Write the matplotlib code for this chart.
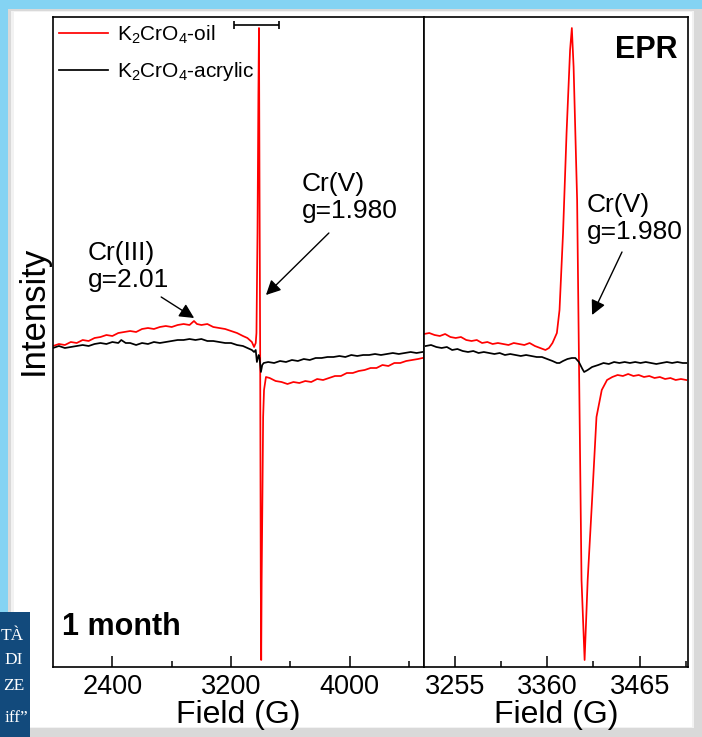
import matplotlib
matplotlib.use("Agg")
import matplotlib.pyplot as plt
from matplotlib.patches import Rectangle
from matplotlib.ticker import FixedLocator

plt.rcParams['font.family'] = ['Liberation Sans', 'DejaVu Sans']
plt.rcParams['mathtext.fontset'] = 'custom'
plt.rcParams['mathtext.rm'] = 'Liberation Sans'
plt.rcParams['mathtext.it'] = 'Liberation Sans:italic'
plt.rcParams['mathtext.bf'] = 'Liberation Sans:bold'

# ---------------- data ----------------
# wide sweep (left panel), field in G, intensity in a.u.
field_wide_oil = [2000, 2040, 2080, 2120, 2160, 2200, 2240, 2280, 2320, 2360, 2400,
                  2440, 2480, 2520, 2560, 2600, 2640, 2680, 2720, 2760, 2800, 2840,
                  2880, 2920, 2950, 2970, 3000, 3040, 3080, 3120, 3160, 3200, 3240,
                  3280, 3310, 3340, 3355, 3366, 3371, 3378, 3384, 3388, 3392, 3396,
                  3400, 3403, 3406, 3411, 3416, 3422, 3435, 3460, 3500, 3540, 3580,
                  3620, 3660, 3700, 3740, 3780, 3820, 3860, 3900, 3940, 3980, 4020,
                  4060, 4100, 4140, 4180, 4220, 4260, 4300, 4340, 4380, 4420, 4460,
                  4490]
oil_wide = [-1, 1, 0, 3, 2, 5, 4, 7, 8, 10, 9,
            12, 13, 14, 13, 16, 17, 16, 18, 19, 18, 20,
            21, 20, 24, 21, 20, 21, 18, 17, 16, 14, 12,
            9, 7, 3, -2, 2, 12, 112, 250, 317, 145, -8,
            -235, -315, -235, -155, -72, -45, -32, -33, -36, -37, -39,
            -37, -38, -36, -37, -34, -35, -33, -31, -31, -28, -28,
            -26, -25, -23, -23, -20, -21, -18, -18, -16, -15, -14,
            -13]

field_wide_acr = [2000, 2040, 2080, 2120, 2160, 2200, 2240, 2280, 2320, 2360, 2400,
                  2440, 2460, 2490, 2520, 2560, 2600, 2640, 2680, 2720, 2760, 2800,
                  2840, 2880, 2920, 2960, 3000, 3040, 3080, 3120, 3160, 3200, 3240,
                  3280, 3310, 3340, 3355, 3366, 3374, 3386, 3392, 3401, 3410, 3420,
                  3450, 3490, 3530, 3570, 3610, 3650, 3690, 3730, 3770, 3810, 3850,
                  3890, 3930, 3970, 4010, 4050, 4090, 4130, 4170, 4210, 4250, 4290,
                  4330, 4370, 4410, 4450, 4490]
acr_wide = [-3, -1, -3, -2, -1, 0, -1, 1, 2, 1, 3,
            2, 5, 2, 2, 0, 2, 1, 3, 2, 3, 4,
            5, 5, 6, 5, 6, 4, 4, 3, 2, 2, 0,
            -1, -3, -5, -7, -5, -17, -10, -13, -27, -20, -18,
            -17, -18, -16, -17, -15, -16, -14, -15, -13, -13, -12,
            -12, -11, -12, -10, -11, -10, -10, -9, -10, -9, -8,
            -9, -8, -7, -8, -7]

# narrow sweep (right panel)
field_zoom_oil = [3220, 3226, 3232, 3238, 3244, 3250, 3256, 3262, 3268, 3274, 3280,
                  3286, 3292, 3298, 3304, 3310, 3316, 3322, 3328, 3334, 3340, 3346,
                  3352, 3358, 3362, 3366, 3371, 3374, 3378, 3382, 3386, 3388, 3390,
                  3394, 3396, 3399, 3402.5, 3406, 3411, 3416, 3422, 3428, 3434, 3440,
                  3446, 3452, 3458, 3464, 3470, 3476, 3482, 3488, 3494, 3500, 3506,
                  3512, 3518]
oil_zoom = [11, 12, 10, 9, 11, 8, 7, 8, 5, 4, 5,
            2, 3, 1, 2, 1, 0, 2, 1, 0, 2, -1,
            -3, -5, -3, 2, 12, 35, 112, 212, 295, 317, 278,
            145, -8, -235, -315, -235, -155, -72, -45, -35, -32, -30,
            -31, -29, -31, -30, -32, -31, -33, -32, -34, -33, -35,
            -34, -35]

field_zoom_acr = [3222, 3228, 3234, 3240, 3246, 3252, 3258, 3264, 3270, 3276, 3282,
                  3288, 3294, 3300, 3306, 3312, 3318, 3324, 3330, 3336, 3342, 3348,
                  3354, 3360, 3366, 3371, 3374, 3378, 3383, 3388, 3392, 3396, 3400,
                  3402, 3406, 3411, 3418, 3424, 3430, 3436, 3442, 3448, 3454, 3460,
                  3466, 3472, 3478, 3484, 3490, 3496, 3502, 3508, 3514, 3518]
acr_zoom = [-1, 0, -2, -3, -2, -5, -4, -6, -7, -6, -8,
            -7, -8, -9, -8, -10, -9, -10, -11, -10, -11, -12,
            -12, -14, -16, -18, -18, -16, -14, -13, -13, -17, -24,
            -27, -25, -22, -20, -18, -19, -17, -18, -17, -18, -17,
            -18, -17, -18, -19, -18, -17, -18, -17, -18, -18]

wide_ticks = [2400, 3200, 4000]
wide_minor = [2800, 3600, 4400]
zoom_ticks = [3255, 3360, 3465]
zoom_minor = [3307.5, 3412.5, 3517.5]
series_labels = ['K$_2$CrO$_4$-oil', 'K$_2$CrO$_4$-acrylic']

# ---------------- figure ----------------
W, H = 702, 737
fig = plt.figure(figsize=(W / 100, H / 100), dpi=100)
fig.patch.set_facecolor('#84d3f3')

def px_rect(x0, y0, x1, y1, color, z):
    fig.patches.append(Rectangle((x0 / W, 1 - y1 / H), (x1 - x0) / W, (y1 - y0) / H,
                                 transform=fig.transFigure, facecolor=color,
                                 edgecolor='none', zorder=z))

px_rect(8, 9, 702, 737, '#d9d9d9', -5)
px_rect(11, 11, 694, 728, '#f2f2f2', -4)
px_rect(14, 12, 692, 727, 'white', -3)
px_rect(0, 612, 30, 737, '#124a7c', -2)
for txt, yy, xx in [('TÀ', 640, 24), ('DI', 664, 23), ('ZE', 690, 24), ('iff\u201d', 722, 28)]:
    fig.text(xx / W, 1 - yy / H, txt, color='white', fontsize=12.5, ha='right',
             va='baseline', family=['Liberation Serif', 'DejaVu Serif'], zorder=-1)

ax1 = fig.add_axes([53 / W, 1 - 667 / H, (424 - 53) / W, 650 / H])
ax2 = fig.add_axes([424 / W, 1 - 667 / H, (688 - 424) / W, 650 / H])

LW = 1.25
ax1.plot(field_wide_oil, oil_wide, color='#ff0000', lw=LW, label=series_labels[0])
ax1.plot(field_wide_acr, acr_wide, color='black', lw=LW, label=series_labels[1])
ax2.plot(field_zoom_oil, oil_zoom, color='#ff0000', lw=LW)
ax2.plot(field_zoom_acr, acr_zoom, color='black', lw=LW)

ax1.set_xlim(2000, 4500)
ax2.set_xlim(3220, 3520)
for ax, maj, mnr in [(ax1, wide_ticks, wide_minor), (ax2, zoom_ticks, zoom_minor)]:
    ax.set_ylim(-322, 328)
    ax.set_yticks([])
    ax.xaxis.set_major_locator(FixedLocator(maj))
    ax.xaxis.set_minor_locator(FixedLocator(mnr))
    ax.tick_params(axis='x', which='major', direction='in', length=8, width=1.1,
                   labelsize=19.5, pad=5)
    ax.tick_params(axis='x', which='minor', direction='in', length=4.5, width=1.1)
    for s in ax.spines.values():
        s.set_linewidth(1.2)
    ax.set_xlabel('Field (G)', fontsize=23, labelpad=0)

ax1.set_ylabel('Intensity', fontsize=25)
ax1.yaxis.set_label_coords(-0.008, 0.548)

# range bar marking the zoomed region
ax1.errorbar([3370], [320], xerr=[150], color='black', lw=1.2, capsize=2.6,
             capthick=1.2, fmt='none')

leg = ax1.legend(loc='upper left', bbox_to_anchor=(0.0, 1.0), frameon=False,
                 fontsize=15, handlelength=2.35, handletextpad=0.4,
                 labelspacing=0.7, borderaxespad=0.3, borderpad=0)

arrow = dict(arrowstyle='-|>', color='black', lw=1.0, mutation_scale=22,
             shrinkA=0, shrinkB=0)
tsz = 19
ax1.annotate('', xy=(2951, 27), xytext=(2729, 48), arrowprops=arrow)
ax1.text(2232, 104, 'Cr(III)\ng=2.01', fontsize=tsz, ha='left', va='top',
         linespacing=1.15)
ax1.annotate('', xy=(3435, 50), xytext=(3859, 112), arrowprops=arrow)
ax1.text(3677, 173, 'Cr(V)\ng=1.980', fontsize=tsz, ha='left', va='top',
         linespacing=1.15)
ax2.annotate('', xy=(3411, 30), xytext=(3445, 93), arrowprops=arrow)
ax2.text(3405, 152, 'Cr(V)\ng=1.980', fontsize=tsz, ha='left', va='top',
         linespacing=1.15)

ax2.text(0.962, 0.972, 'EPR', transform=ax2.transAxes, fontsize=22,
         fontweight='bold', ha='right', va='top')
ax1.text(0.024, 0.049, '1 month', transform=ax1.transAxes, fontsize=22,
         fontweight='bold', ha='left', va='baseline')

fig.savefig('out.png', dpi=100, facecolor=fig.get_facecolor())
